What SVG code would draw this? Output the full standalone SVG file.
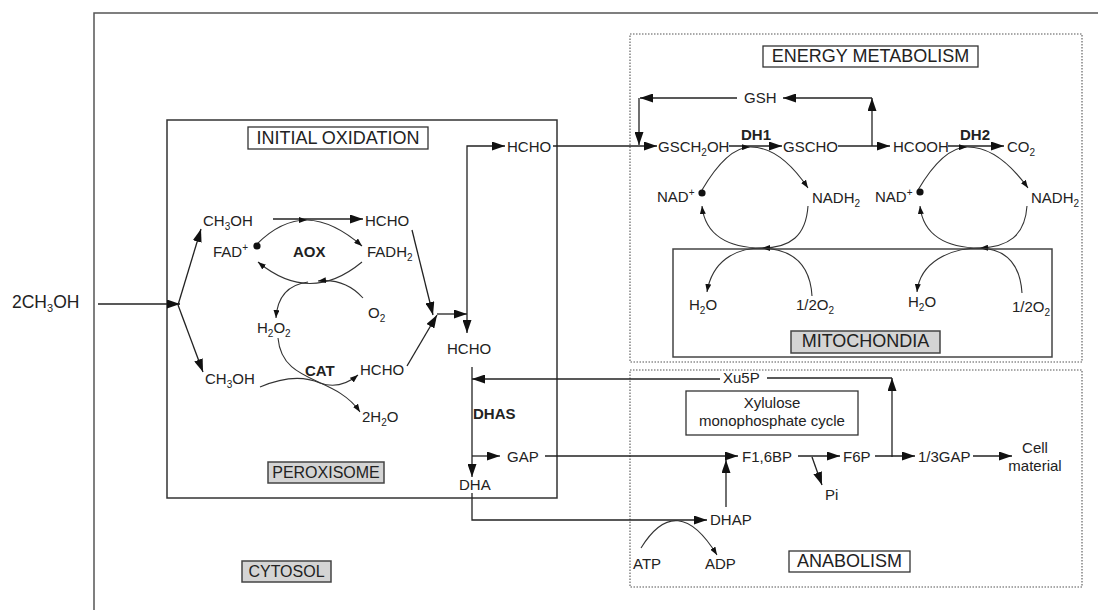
<svg xmlns="http://www.w3.org/2000/svg" width="1098" height="610" viewBox="0 0 1098 610">
<defs>
<style>
text{font-family:"Liberation Sans",Arial,sans-serif;fill:#222;font-size:15px}
.b{font-weight:bold}
.big{font-size:18px}
.mid{text-anchor:middle}
.c{fill:none;stroke:#222;stroke-width:1.3}
.ca{fill:none;stroke:#222;stroke-width:1.3;marker-end:url(#ah)}
.cs{fill:none;stroke:#333;stroke-width:1.1;marker-end:url(#as)}
.arc{fill:none;stroke:#333;stroke-width:1.1}
.lbl{fill:#fff;stroke:#333;stroke-width:1.3}
.gry{fill:#d4d4d4;stroke:#444;stroke-width:1.5}
.dot{fill:none;stroke:#555;stroke-width:1.1;stroke-dasharray:1.5 1.5}
.sub{font-size:10px}
</style>
<marker id="ah" viewBox="0 0 13 9" refX="13" refY="4.5" markerWidth="13" markerHeight="9" markerUnits="userSpaceOnUse" orient="auto"><path d="M0,0 L13,4.5 L0,9 z" fill="#111"/></marker>
<marker id="as" viewBox="0 0 8 6" refX="8" refY="3" markerWidth="8" markerHeight="6" markerUnits="userSpaceOnUse" orient="auto"><path d="M0,0 L8,3 L0,6 z" fill="#111"/></marker>
</defs>
<rect width="1098" height="610" fill="#fff"/>

<g id="cytosol">
<path d="M94,610 V13 H1098" fill="none" stroke="#555" stroke-width="1.5"/>
<rect class="gry" x="242" y="561" width="89" height="21"/>
<text class="mid" x="286.5" y="577" style="font-size:16px">CYTOSOL</text>
</g>

<g id="peroxisome">
<rect x="167" y="120" width="390" height="378" fill="none" stroke="#333" stroke-width="1.5"/>
<rect class="lbl" x="248" y="127" width="180" height="22"/>
<text class="big mid" x="338" y="144">INITIAL OXIDATION</text>
<rect class="gry" x="268" y="462" width="116" height="21"/>
<text class="mid" x="326" y="478" style="font-size:16px">PEROXISOME</text>
</g>

<g id="energy-metabolism">
<rect class="dot" x="630" y="34" width="452" height="328"/>
<rect class="lbl" x="763" y="46" width="215" height="21"/>
<text class="big mid" x="870.5" y="62">ENERGY METABOLISM</text>
</g>

<g id="mitochondria">
<rect x="673" y="249" width="379" height="108" fill="none" stroke="#444" stroke-width="1.5"/>
<rect class="gry" x="791" y="331" width="149" height="22"/>
<text class="big mid" x="865.5" y="347">MITOCHONDIA</text>
</g>

<g id="anabolism">
<rect class="dot" x="630" y="370" width="452" height="217"/>
<rect class="lbl" x="789" y="551" width="121" height="21"/>
<text class="big mid" x="849.5" y="567">ANABOLISM</text>
<rect class="lbl" x="686" y="391" width="172" height="44"/>
<text class="mid" x="772" y="408">Xylulose</text>
<text class="mid" x="772" y="426">monophosphate cycle</text>
</g>

<g id="connectors">
<path class="ca" d="M98,304 H180"/>
<path class="ca" d="M178,305 L201,229"/>
<path class="ca" d="M178,305 L203,372"/>
<path class="ca" d="M273,219 H363"/>
<path class="cs" d="M257,244 Q281,220 307,220"/>
<path class="cs" d="M307,220 Q333.5,221 362,246"/>
<path class="cs" d="M362,262 Q310,305 258,262"/>
<path class="cs" d="M363,298 Q345,278 318,281"/>
<path class="cs" d="M308,282 Q278,286 276,318"/>
<path class="cs" d="M278,338 C282,385 335,375 360,412"/>
<path class="cs" d="M260,387 Q295,372 320,383 Q340,390 358,375"/>
<path class="ca" d="M412,230 L433,315"/>
<path class="ca" d="M407,366 L437,315"/>
<path class="ca" d="M437,314 H467"/>
<path class="ca" d="M467,314 V146 H505"/>
<path class="ca" d="M467,314 V333"/>
<path class="ca" d="M553,146 H657"/>
<path class="ca" d="M872,146 V98"/>
<path class="ca" d="M872,98 H783"/>
<path class="ca" d="M737,98 H640"/>
<path class="ca" d="M639,98 V145"/>
<path class="ca" d="M729,146 H782"/>
<path class="ca" d="M838,146 H890"/>
<path class="ca" d="M948,146 H1004"/>
<path class="cs" d="M702,190 Q727,147.5 750,147"/>
<path class="cs" d="M750,147 Q780,146.5 808,188"/>
<path class="cs" d="M808,206 C806,236 790,248 762,248"/>
<path class="cs" d="M762,248 C728,248 705,235 702,206"/>
<path class="cs" d="M812,296 C810,262 790,249 762,248 C734,248 712,262 707,292"/>
<path class="cs" d="M918,190 Q943,147.5 967,147"/>
<path class="cs" d="M967,147 Q998,146.5 1028,188"/>
<path class="cs" d="M1027,206 C1025,236 1008,247 980,248"/>
<path class="cs" d="M980,248 C946,248 923,235 920,206"/>
<path class="cs" d="M1022,293 C1020,262 1005,249 980,248 C950,248 920,262 917,292"/>
<path class="ca" d="M892,457 V378"/>
<path class="c" d="M892,378 H767"/>
<path class="ca" d="M720,379 H472"/>
<path class="ca" d="M472,367 V477"/>
<path class="ca" d="M472,456 H500"/>
<path class="ca" d="M545,456 H738"/>
<path class="ca" d="M472,493 V520 H707"/>
<path class="cs" d="M641,548 Q677,490 717,555"/>
<path class="ca" d="M726,507 V460"/>
<path class="ca" d="M798,456 H840"/>
<path class="ca" d="M812,457 L822,485"/>
<path class="ca" d="M875,456 H915"/>
<path class="ca" d="M973,456 H1012"/>
</g>

<g id="n-2ch3oh"><text x="12" y="308" style="font-size:17.5px">2CH<tspan dy="4" style="font-size:11px">3</tspan><tspan dy="-4">OH</tspan></text></g>
<g id="n-ch3oh-1"><text x="203" y="226">CH<tspan class="sub" dy="4">3</tspan><tspan dy="-4">OH</tspan></text></g>
<g id="n-hcho-1"><text x="365" y="226">HCHO</text></g>
<g id="n-fad"><text x="213" y="257">FAD<tspan class="sub" dy="-6">+</tspan></text><circle cx="257" cy="246" r="3.6" fill="#111"/></g>
<g id="n-aox"><text class="b" x="293" y="257">AOX</text></g>
<g id="n-fadh2"><text x="367" y="257">FADH<tspan class="sub" dy="4">2</tspan></text></g>
<g id="n-o2"><text x="368" y="318">O<tspan class="sub" dy="4">2</tspan></text></g>
<g id="n-h2o2"><text x="257" y="333">H<tspan class="sub" dy="4">2</tspan><tspan dy="-4">O</tspan><tspan class="sub" dy="4">2</tspan></text></g>
<g id="n-cat"><text class="b" x="305" y="376">CAT</text></g>
<g id="n-ch3oh-2"><text x="205" y="384">CH<tspan class="sub" dy="4">3</tspan><tspan dy="-4">OH</tspan></text></g>
<g id="n-hcho-2"><text x="360" y="375">HCHO</text></g>
<g id="n-2h2o"><text x="362" y="422">2H<tspan class="sub" dy="4">2</tspan><tspan dy="-4">O</tspan></text></g>
<g id="n-hcho-top"><text x="507" y="152">HCHO</text></g>
<g id="n-hcho-mid"><text x="447" y="354">HCHO</text></g>
<g id="n-dhas"><text class="b" x="473" y="419">DHAS</text></g>
<g id="n-gap"><text x="507" y="462">GAP</text></g>
<g id="n-dha"><text x="459" y="490">DHA</text></g>
<g id="n-gsh"><text x="744" y="103">GSH</text></g>
<g id="n-gsch2oh"><text x="658" y="152">GSCH<tspan class="sub" dy="4">2</tspan><tspan dy="-4">OH</tspan></text></g>
<g id="n-dh1"><text class="b" x="741" y="140">DH1</text></g>
<g id="n-gscho"><text x="783" y="152">GSCHO</text></g>
<g id="n-hcooh"><text x="893" y="152">HCOOH</text></g>
<g id="n-dh2"><text class="b" x="960" y="140">DH2</text></g>
<g id="n-co2"><text x="1007" y="152">CO<tspan class="sub" dy="4">2</tspan></text></g>
<g id="n-nad-1"><text x="657" y="202">NAD<tspan class="sub" dy="-6">+</tspan></text><circle cx="702" cy="193" r="3.6" fill="#111"/></g>
<g id="n-nadh2-1"><text x="812" y="203">NADH<tspan class="sub" dy="4">2</tspan></text></g>
<g id="n-nad-2"><text x="875" y="202">NAD<tspan class="sub" dy="-6">+</tspan></text><circle cx="920" cy="192" r="3.6" fill="#111"/></g>
<g id="n-nadh2-2"><text x="1031" y="203">NADH<tspan class="sub" dy="4">2</tspan></text></g>
<g id="n-h2o-1"><text x="689" y="310">H<tspan class="sub" dy="4">2</tspan><tspan dy="-4">O</tspan></text></g>
<g id="n-o2half-1"><text x="796" y="310">1/2O<tspan class="sub" dy="4">2</tspan></text></g>
<g id="n-h2o-2"><text x="908" y="307">H<tspan class="sub" dy="4">2</tspan><tspan dy="-4">O</tspan></text></g>
<g id="n-o2half-2"><text x="1012" y="312">1/2O<tspan class="sub" dy="4">2</tspan></text></g>
<g id="n-xu5p"><text x="723" y="383">Xu5P</text></g>
<g id="n-f16bp"><text x="742" y="462">F1,6BP</text></g>
<g id="n-f6p"><text x="843" y="462">F6P</text></g>
<g id="n-pi"><text x="825" y="500">Pi</text></g>
<g id="n-13gap"><text x="918" y="462">1/3GAP</text></g>
<g id="n-cell"><text class="mid" x="1035" y="453">Cell</text><text class="mid" x="1035" y="471">material</text></g>
<g id="n-dhap"><text x="710" y="525">DHAP</text></g>
<g id="n-atp"><text x="633" y="569">ATP</text></g>
<g id="n-adp"><text x="705" y="569">ADP</text></g>
</svg>
